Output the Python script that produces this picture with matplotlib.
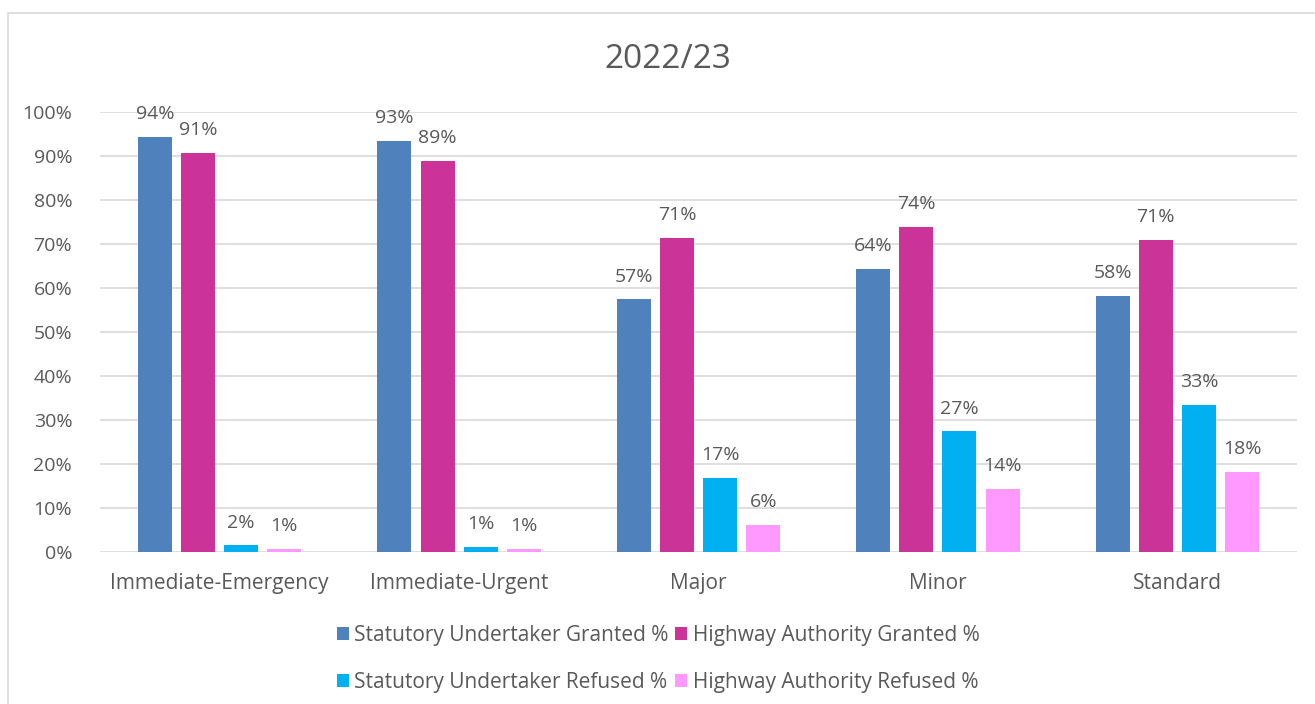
import numpy as np
import matplotlib.pyplot as plt
from matplotlib.patches import Rectangle

plt.rcParams['font.family'] = ['Open Sans', 'DejaVu Sans']

categories = ['Immediate-Emergency', 'Immediate-Urgent', 'Major', 'Minor', 'Standard']
series_names = ['Statutory Undertaker Granted %', 'Highway Authority Granted %',
                'Statutory Undertaker Refused %', 'Highway Authority Refused %']
su_granted = [94.3, 93.4, 57.4, 64.4, 58.2]
ha_granted = [90.6, 88.8, 71.3, 73.8, 71.0]
su_refused = [1.5, 1.2, 16.8, 27.4, 33.4]
ha_refused = [0.6, 0.7, 6.1, 14.3, 18.1]
colors = ['#4F81BD', '#CC3399', '#00B0F0', '#FF99FF']

text_col = '#595959'
grid_col = '#D9D9D9'

fig = plt.figure(figsize=(13.15, 7.04), dpi=100)
ax = fig.add_axes([100 / 1315, 1 - 552 / 704, 1197 / 1315, 440 / 704])

# chart border
fig.patches.append(Rectangle((8 / 1315, -0.1), 1.1, 1 - 13 / 704 + 0.1,
                             transform=fig.transFigure, fill=False,
                             edgecolor=grid_col, linewidth=1.2))

x = np.arange(len(categories))
step = 0.18
width = 0.142
all_vals = [su_granted, ha_granted, su_refused, ha_refused]
handles = []
for i, (vals, name, col) in enumerate(zip(all_vals, series_names, colors)):
    pos = x + (i - 1.5) * step
    bars = ax.bar(pos, vals, width, color=col, label=name, zorder=3)
    handles.append(bars)
    for b, v in zip(bars, vals):
        ax.annotate(f'{v:.0f}%', (b.get_x() + b.get_width() / 2, v),
                    xytext=(0, 10), textcoords='offset points',
                    ha='center', va='bottom', fontsize=14, color=text_col)

ax.set_xlim(-0.5, len(categories) - 0.5)
ax.set_ylim(0, 100)
ax.set_yticks(np.arange(0, 101, 10))
ax.set_yticklabels([f'{t}%' for t in range(0, 101, 10)])
ax.set_xticks(x)
ax.set_xticklabels(categories)
ax.tick_params(axis='both', length=0, labelcolor=text_col)
ax.tick_params(axis='x', pad=15, labelsize=15)
ax.tick_params(axis='y', pad=20, labelsize=14)
ax.grid(axis='y', color=grid_col, linewidth=1.2, zorder=0)
ax.set_axisbelow(True)
for s in ax.spines.values():
    s.set_visible(False)

fig.text(668 / 1315, 1 - 60 / 704, '2022/23', ha='center', va='center',
         fontsize=24, color=text_col)

# legend fills by column, so order gives rows: granted / refused
order = [0, 2, 1, 3]
fig.legend([handles[i] for i in order], [series_names[i] for i in order],
           loc='center', bbox_to_anchor=(658 / 1315, 1 - 659 / 704), ncol=2,
           frameon=False, fontsize=15, labelcolor=text_col,
           handlelength=0.6, handleheight=0.6, handletextpad=0.25,
           columnspacing=0.3, labelspacing=1.25)

fig.savefig('out.png', dpi=100)
